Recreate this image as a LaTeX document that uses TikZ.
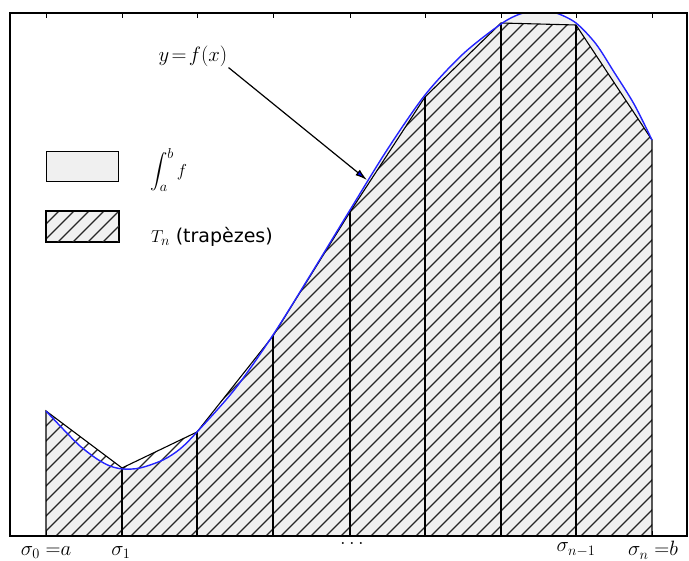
\documentclass[tikz,border=0pt]{standalone}
\usepackage{exscale}
\usepackage{fontspec}
\newfontfamily\dvs{DejaVu Sans}
\usetikzlibrary{arrows.meta}
\definecolor{fillgray}{RGB}{240,240,240}
\definecolor{curveblue}{RGB}{35,35,255}
\begin{document}
\begin{tikzpicture}[x=1pt,y=-1pt,
  hatchline/.style={line width=1.25pt, black!85},
  edge/.style={line width=1.1pt, black},
  legbox/.style={draw, line width=1.4pt, fill=fillgray, minimum width=72pt, minimum height=30pt, anchor=north west, inner sep=0pt},
  lab/.style={font=\fontsize{22}{26}\selectfont, inner sep=0pt, anchor=base},
  leglab/.style={font=\fontsize{19}{23}\selectfont, inner sep=0pt, anchor=west}]
\useasboundingbox (0,0) rectangle (689,561);
% plot area contents clipped to frame
\begin{scope}
\clip (10,13) rectangle (687,536);
\fill[fillgray] (46,536) -- plot[smooth] coordinates {(46,411) (63,429) (80,446) (97,459) (110,466) (123,469) (140,468) (163,460) (180,449) (197,432) (235,389) (273,335) (311,274) (350,210) (387,150) (425,95) (463,54) (501,24) (520,14) (537,11) (556,13) (576,23) (596,44) (614,72) (634,104) (652,140)} -- (652,536) -- cycle;
\begin{scope}
\clip (46,536) -- (46,411) -- (122,468) -- (197,432) -- (273,336) -- (350,212) -- (425,97) -- (501,23) -- (576,25) -- (652,140) -- (652,536) -- cycle;
\foreach \c in {-568,-553,...,700} \draw[hatchline] (\c,560) -- ++(560,-560);
\end{scope}
\draw[edge] (46,536) -- (46,411) -- (122,468) -- (197,432) -- (273,336) -- (350,212) -- (425,97) -- (501,23) -- (576,25) -- (652,140) -- (652,536);
\foreach \x/\y in {122/468,197/432,273/336,350/212,425/97,501/23,576/25}
  \draw[edge] (\x,536) -- (\x,\y);
\draw[curveblue, line width=1.4pt] plot[smooth] coordinates {(46,411) (63,429) (80,446) (97,459) (110,466) (123,469) (140,468) (163,460) (180,449) (197,432) (235,389) (273,335) (311,274) (350,210) (387,150) (425,95) (463,54) (501,24) (520,14) (537,11) (556,13) (576,23) (596,44) (614,72) (634,104) (652,140)};
\end{scope}
% frame and ticks
\draw[line width=1.4pt] (10,13) rectangle (687,536);
\foreach \x in {46,122,197,273,350,425,501,576,652} {
  \draw[line width=1pt] (\x,13) -- (\x,18);
  \draw[line width=1pt] (\x,536) -- (\x,531);
}
% legend
\node[legbox] (leg1) at (46,151) {};
\node[legbox] (leg2) at (46,211) {};
\begin{scope}
\clip (leg2.south west) rectangle (leg2.north east);
\foreach \c in {-40,-25,...,130} \draw[hatchline] (\c,250) -- ++(45,-45);
\end{scope}
\draw[line width=1.4pt] (leg2.south west) rectangle (leg2.north east);
\node[leglab] (intlab) at (150,170) {$\displaystyle\int_a^b f$};
\node[leglab] (tlab) at (151,237) {$T_n$ {\dvs (trapèzes)}};
% curve label and arrow
\node[font=\fontsize{22}{26}\selectfont, inner sep=1pt] (ylab) at (193,56) {$y\mkern2mu{=}\mkern2mu f(x)$};
\coordinate (tip) at (367,180);
\draw[line width=1.2pt, -{Latex[length=12pt,width=7pt,fill=blue]}] (ylab.south east) -- (tip);
% axis labels
\node[lab] (s0) at (46,555) {$\sigma_0\;{=}a$};
\node[lab] (s1) at (121,555) {$\sigma_1$};
\node[lab] (dots) at (352,545) {$\ldots$};
\node[lab] (sn1) at (576,552) {$\sigma_{n-1}$};
\node[lab] (sn) at (653,556) {$\sigma_n\;{=}b$};
\end{tikzpicture}
\end{document}
